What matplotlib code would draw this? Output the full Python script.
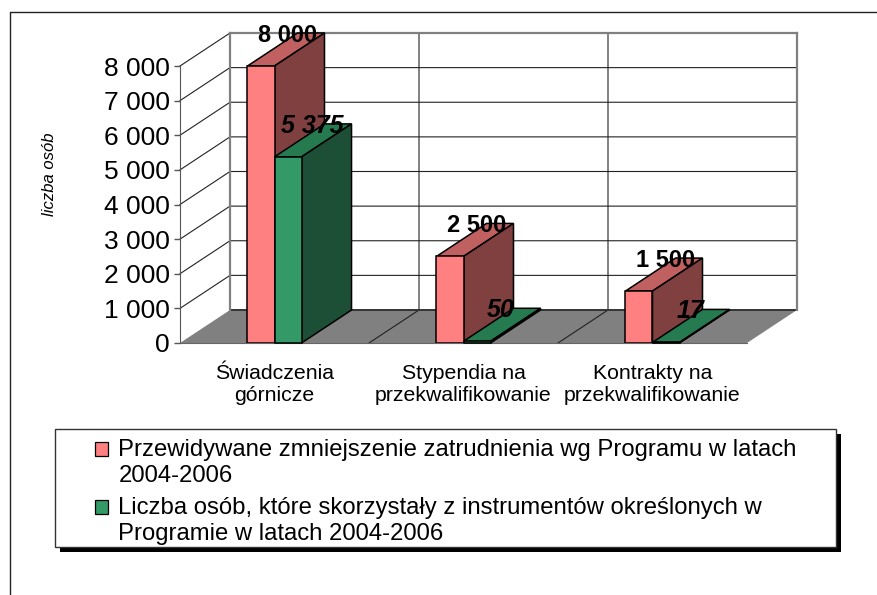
#!/usr/bin/env python3
"""
Pseudo-3D clustered bars: planned job cuts vs. people who used the programme.
"""
import matplotlib
matplotlib.use('Agg')
import matplotlib.pyplot as plt
from matplotlib.lines import Line2D
from matplotlib.patches import Polygon, Rectangle

categories = ['Świadczenia\ngórnicze', 'Stypendia na\nprzekwalifikowanie', 'Kontrakty na\nprzekwalifikowanie']
planned = [8000, 2500, 1500]
used = [5375, 50, 17]
planned_labels = ['8 000', '2 500', '1 500']
used_labels = ['5 375', '50', '17']
y_ticks = [0, 1000, 2000, 3000, 4000, 5000, 6000, 7000, 8000]
y_tick_labels = ['0', '1 000', '2 000', '3 000', '4 000', '5 000', '6 000', '7 000', '8 000']
legend_labels = [
    'Przewidywane zmniejszenie zatrudnienia wg Programu w latach\n2004-2006',
    'Liczba osób, które skorzystały z instrumentów określonych w\nProgramie w latach 2004-2006',
]

W, H = 877, 595
# depth of the fake 3D box, in data units (50 px right, 33 px up)
DX = 50 / 189
DY = 33 / 277 * 8000
BAR_W = 0.143

plt.rcParams['font.family'] = ['Liberation Sans', 'DejaVu Sans']

fig = plt.figure(figsize=(W / 100, H / 100), dpi=100)
ax = fig.add_axes([180 / W, 1 - 343 / H, 567 / W, 277 / H])
ax.set_xlim(0, 3)
ax.set_ylim(0, 8000)
ax.patch.set_visible(False)


def poly(points, **kw):
    p = Polygon(points, closed=True, clip_on=False, **kw)
    ax.add_patch(p)
    return p


def line(xs, ys, **kw):
    ax.add_line(Line2D(xs, ys, clip_on=False, **kw))


# floor
poly([(0, 0), (3, 0), (3 + DX, DY), (DX, DY)], facecolor='#808080', edgecolor='none', zorder=1)
# walls, gridlines
for t in y_ticks[1:]:
    line([0, DX, 3 + DX], [t, t + DY, t + DY], color='#222222', lw=0.8, zorder=1)
for k in range(1, 3):
    line([k, k + DX, k + DX], [0, DY, 8000 + DY], color='#222222', lw=0.8, zorder=1.5)
line([DX, 3 + DX], [DY, DY], color='#333333', lw=1.4, zorder=1.5)
line([DX, DX], [DY, 8000 + DY], color='#808080', lw=1.6, zorder=1.5)
line([3 + DX, 3 + DX], [DY, 8000 + DY], color='#808080', lw=1.6, zorder=1.5)
line([DX, 3 + DX], [8000 + DY, 8000 + DY], color='#808080', lw=1.6, zorder=1.5)


def bars_3d(x0, values, face, top, side, label, z):
    cont = ax.bar([x + x0 for x in range(3)], values, width=BAR_W, align='edge', color=face,
                  edgecolor='black', linewidth=1.1, clip_on=False, zorder=z + 0.2, label=label)
    for rect, v in zip(cont, values):
        l, r = rect.get_x(), rect.get_x() + BAR_W
        poly([(l, v), (r, v), (r + DX, v + DY), (l + DX, v + DY)], facecolor=top,
             edgecolor='black', linewidth=1.1, zorder=z)
        poly([(r, 0), (r + DX, DY), (r + DX, v + DY), (r, v)], facecolor=side,
             edgecolor='black', linewidth=1.1, zorder=z)
    return cont


bars_3d(0.357, planned, '#FF8080', '#C06060', '#804040', legend_labels[0], 2)
bars_3d(0.5, used, '#339966', '#267A50', '#1C4F36', legend_labels[1], 3)

# value labels sit above the back of each bar
for i in range(3):
    ax.annotate(planned_labels[i], (i + 0.357 + BAR_W / 2, planned[i]), xytext=(27, 31),
                textcoords='offset pixels', ha='center', va='center', fontsize=17,
                fontweight='bold', zorder=6, annotation_clip=False)
    ax.annotate(used_labels[i], (i + 0.5 + BAR_W / 2, used[i]), xytext=(24, 31),
                textcoords='offset pixels', ha='center', va='center', fontsize=18,
                fontweight='bold', fontstyle='italic', zorder=6, annotation_clip=False)

# axes
for s in ['top', 'right']:
    ax.spines[s].set_visible(False)
ax.spines['left'].set_color('#555555')
ax.spines['bottom'].set_color('#666666')
ax.set_yticks(y_ticks)
ax.set_yticklabels(y_tick_labels, fontsize=19)
ax.tick_params(axis='y', length=4.5, width=1, color='#555555', pad=3)
ax.set_xticks([0.5, 1.5, 2.5])
ax.set_xticklabels(categories, fontsize=15.3, linespacing=1.2)
ax.tick_params(axis='x', length=0, pad=15)
ax.set_ylabel('liczba osób', fontsize=12, fontstyle='italic')
ax.yaxis.set_label_coords((57 - 180) / 567, 0.61)

# chart frame, top and left edges only
fig.add_artist(Line2D([10 / W, 10 / W, 1], [0, 1 - 12 / H, 1 - 12 / H], color='#222222', lw=1))

# legend box with hard shadow
fig.add_artist(Rectangle((60 / W, 1 - 552 / H), 781 / W, 118 / H, transform=fig.transFigure,
                         facecolor='black', edgecolor='none', zorder=3))
fig.add_artist(Rectangle((55 / W, 1 - 547 / H), 781 / W, 118 / H, transform=fig.transFigure,
                         facecolor='white', edgecolor='#333333', lw=1, zorder=3.1))
leg = fig.legend(loc='upper left', bbox_to_anchor=(88 / W, 1 - 432 / H), frameon=False,
                 fontsize=17.2, handlelength=0.55, handleheight=0.55, handletextpad=0.42,
                 labelspacing=0.45, borderpad=0.3, borderaxespad=0)
leg.set_zorder(4)
# handles line up with the first text line, not the middle of the label
for h in leg.legend_handles:
    h.set_y(h.get_y() + 10)
    h.set_linewidth(0.9)

fig.savefig('out.png', dpi=100)
